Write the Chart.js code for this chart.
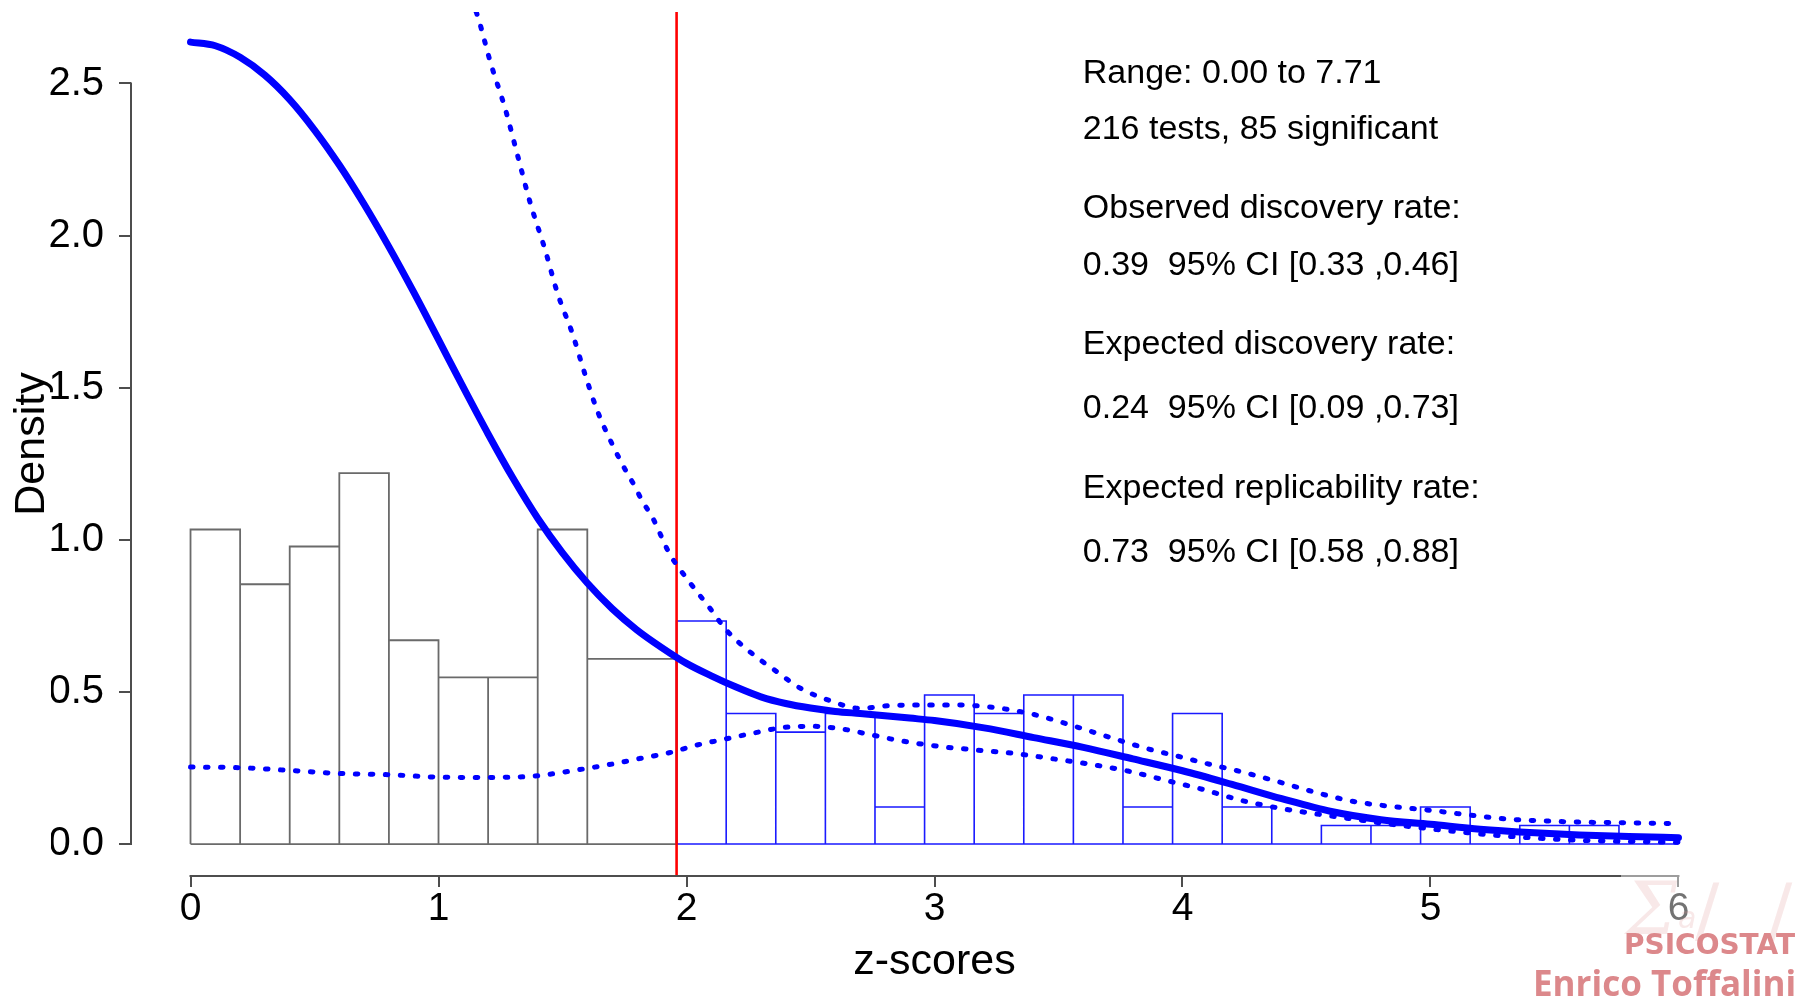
<!DOCTYPE html>
<html><head><meta charset="utf-8">
<script src="https://cdn.jsdelivr.net/npm/chart.js@4.4.1/dist/chart.umd.min.js"></script>
<style>html,body{margin:0;padding:0;background:#fff;}canvas{display:block;}</style>
</head><body>
<canvas id="c" width="1800" height="1006"></canvas>
<script>
// ---------- data ----------
const xTicks = [0, 1, 2, 3, 4, 5, 6];
const yTicks = [0.0, 0.5, 1.0, 1.5, 2.0, 2.5];
const xRange = [-0.24, 6.24];
const yRange = [-0.105, 2.735];
const critZ = 1.96;

const grayEdges = [0, 0.2, 0.4, 0.6, 0.8, 1.0, 1.2, 1.4, 1.6, 1.96];
const grayDensity = [1.034, 0.854, 0.978, 1.219, 0.670, 0.548, 0.548, 1.034, 0.609];

const blueEdges = [1.96, 2.16, 2.36, 2.56, 2.76, 2.96, 3.16, 3.36, 3.56, 3.76, 3.96, 4.16, 4.36, 4.56, 4.76, 4.96, 5.16, 5.36, 5.56, 5.76, 5.96, 6.0];
const blueDensity = [0.733, 0.429, 0.368, 0.429, 0.122, 0.490, 0.429, 0.490, 0.490, 0.122, 0.429, 0.122, 0, 0.061, 0.061, 0.122, 0, 0.061, 0.061, 0, 0];

const fitZ = [0, 0.1, 0.2, 0.3, 0.4, 0.5, 0.6, 0.7, 0.8, 0.9, 1.0, 1.1, 1.2, 1.3, 1.4, 1.5, 1.6, 1.7, 1.8, 1.9, 2.0, 2.1, 2.2, 2.3, 2.4, 2.5, 2.6, 2.7, 2.8, 2.9, 3.0, 3.2, 3.4, 3.6, 3.8, 4.0, 4.2, 4.4, 4.6, 4.8, 5.0, 5.2, 5.4, 5.6, 5.8, 6.0];
const fitD = [2.636, 2.624, 2.586, 2.527, 2.447, 2.347, 2.232, 2.103, 1.963, 1.814, 1.658, 1.501, 1.348, 1.203, 1.071, 0.957, 0.858, 0.774, 0.704, 0.646, 0.594, 0.553, 0.516, 0.484, 0.462, 0.447, 0.436, 0.429, 0.422, 0.414, 0.406, 0.382, 0.350, 0.318, 0.280, 0.241, 0.196, 0.149, 0.107, 0.080, 0.065, 0.049, 0.038, 0.030, 0.025, 0.021];

const ciUpZ = [1.152, 1.16, 1.21, 1.27, 1.32, 1.37, 1.43, 1.48, 1.54, 1.59, 1.64, 1.70, 1.75, 1.79, 1.82, 1.865, 1.93, 2.01, 2.09, 2.16, 2.26, 2.36, 2.46, 2.58, 2.70, 2.82, 2.93, 3.09, 3.24, 3.40, 3.55, 3.71, 3.86, 4.00, 4.08, 4.23, 4.39, 4.54, 4.69, 4.85, 5.00, 5.15, 5.31, 5.46, 5.61, 5.77, 6.00];
const ciUpD = [2.735, 2.716, 2.568, 2.414, 2.260, 2.107, 1.953, 1.810, 1.678, 1.546, 1.425, 1.315, 1.235, 1.178, 1.130, 1.070, 0.957, 0.863, 0.780, 0.704, 0.629, 0.569, 0.512, 0.471, 0.446, 0.455, 0.457, 0.457, 0.449, 0.426, 0.391, 0.350, 0.313, 0.285, 0.268, 0.239, 0.204, 0.169, 0.140, 0.123, 0.111, 0.096, 0.082, 0.076, 0.072, 0.070, 0.067];

const ciLoZ = [0, 0.2, 0.4, 0.6, 0.8, 1.0, 1.2, 1.39, 1.57, 1.70, 1.81, 1.93, 2.04, 2.15, 2.26, 2.39, 2.51, 2.63, 2.75, 2.86, 3.01, 3.17, 3.32, 3.48, 3.63, 3.78, 3.94, 4.09, 4.23, 4.39, 4.54, 4.69, 4.85, 5.00, 5.15, 5.31, 5.46, 5.61, 5.77, 6.00];
const ciLoD = [0.253, 0.251, 0.242, 0.232, 0.228, 0.220, 0.219, 0.224, 0.245, 0.263, 0.281, 0.300, 0.325, 0.344, 0.363, 0.383, 0.387, 0.378, 0.358, 0.340, 0.322, 0.309, 0.298, 0.280, 0.262, 0.240, 0.208, 0.178, 0.145, 0.118, 0.099, 0.082, 0.064, 0.050, 0.037, 0.026, 0.018, 0.012, 0.009, 0.006];

const infoLines = ["Range: 0.00 to 7.71", "216 tests, 85 significant", "Observed discovery rate:", "0.39  95% CI [0.33 ,0.46]", "Expected discovery rate:", "0.24  95% CI [0.09 ,0.73]", "Expected replicability rate:", "0.73  95% CI [0.58 ,0.88]"];
const infoY = [2.501, 2.318, 2.057, 1.870, 1.610, 1.400, 1.138, 0.927];
const infoX = 3.598;

// ---------- helpers ----------
function histOutline(edges, dens) {
  const pts = [{x: edges[0], y: 0}];
  for (let i = 0; i < dens.length; i++) {
    pts.push({x: edges[i], y: dens[i]});
    pts.push({x: edges[i + 1], y: dens[i]});
    pts.push({x: edges[i + 1], y: 0});
  }
  pts.push({x: edges[0], y: 0});
  return pts;
}
function zip(xs, ys) { return xs.map((x, i) => ({x: x, y: ys[i]})); }

const FONT = "'Liberation Sans', Arial, sans-serif";
const AXIS_COL = '#4d4d4d';

const decor = {
  id: 'decor',
  afterDraw(chart) {
    const c = chart.ctx, xs = chart.scales.x, ys = chart.scales.y, ca = chart.chartArea;
    c.save();
    c.strokeStyle = AXIS_COL; c.lineWidth = 2; c.lineCap = 'butt';
    c.beginPath();
    c.moveTo(xs.getPixelForValue(xTicks[0]) - 1, ca.bottom);
    c.lineTo(xs.getPixelForValue(xTicks[xTicks.length - 1]) + 1, ca.bottom);
    c.moveTo(ca.left, ys.getPixelForValue(yTicks[0]) + 1);
    c.lineTo(ca.left, ys.getPixelForValue(yTicks[yTicks.length - 1]) - 1);
    c.stroke();
    // left edge crop seen in the original picture (cuts the leading zeros of the lower labels)
    c.fillStyle = '#fff';
    c.fillRect(0, 565, 51, 320);
    c.fillStyle = '#000';
    c.font = "34px " + FONT;
    c.textAlign = 'left'; c.textBaseline = 'alphabetic';
    infoLines.forEach((t, i) => c.fillText(t, xs.getPixelForValue(infoX), ys.getPixelForValue(infoY[i])));
    // watermark
    c.fillStyle = 'rgba(255,255,255,0.45)';
    c.fillRect(1621, 867, 179, 139);
    c.fillStyle = 'rgba(225,150,150,0.22)';
    c.font = "italic 72px 'DejaVu Serif', serif";
    c.fillText('\u03A3', 1626, 934);
    c.font = "italic 30px 'DejaVu Sans', sans-serif";
    c.fillText('a', 1678, 928);
    c.font = "72px 'DejaVu Sans', sans-serif";
    c.fillText('/', 1695, 934);
    c.fillText('/', 1768, 934);
    c.fillStyle = '#dc888b';
    c.font = "bold 28px 'DejaVu Sans', sans-serif";
    c.fillText('PSICOSTAT', 1624, 954);
    c.font = "bold 35px 'Open Sans', sans-serif";
    c.fillText('Enrico Toffalini', 1533, 996);
    c.restore();
  }
};

new Chart(document.getElementById('c'), {
  type: 'line',
  data: {
    datasets: [
      {label: 'fit', data: zip(fitZ, fitD), borderColor: '#0000ff', borderWidth: 7, borderCapStyle: 'round', borderJoinStyle: 'round', pointRadius: 0, cubicInterpolationMode: 'monotone', order: 0},
      {label: 'ciUp', data: zip(ciUpZ, ciUpD), borderColor: '#0000ff', borderWidth: 5, borderDash: [2.5, 12.5], borderCapStyle: 'round', pointRadius: 0, cubicInterpolationMode: 'monotone', order: 1},
      {label: 'ciLo', data: zip(ciLoZ, ciLoD), borderColor: '#0000ff', borderWidth: 5, borderDash: [2.5, 12.5], borderCapStyle: 'round', pointRadius: 0, cubicInterpolationMode: 'monotone', order: 2},
      {label: 'crit', data: [{x: critZ, y: yRange[0]}, {x: critZ, y: yRange[1]}], borderColor: '#ff0000', borderWidth: 2.6, pointRadius: 0, order: 3},
      {label: 'histSig', data: histOutline(blueEdges, blueDensity), borderColor: '#1a1aff', borderWidth: 1.6, pointRadius: 0, tension: 0, borderJoinStyle: 'miter', order: 4},
      {label: 'histNs', data: histOutline(grayEdges, grayDensity), borderColor: '#6a6a6a', borderWidth: 1.8, pointRadius: 0, tension: 0, borderJoinStyle: 'miter', order: 5}
    ]
  },
  options: {
    responsive: false, animation: false, devicePixelRatio: 1,
    layout: {padding: {left: 0, right: 62, top: 12, bottom: 0}},
    plugins: {legend: {display: false}, tooltip: {enabled: false}},
    scales: {
      x: {
        type: 'linear', min: xRange[0], max: xRange[1],
        afterBuildTicks: s => { s.ticks = xTicks.map(v => ({value: v})); },
        afterFit: s => { s.height = 130; s.paddingLeft = 0; s.paddingRight = 0; },
        border: {display: false},
        grid: {display: true, drawOnChartArea: false, drawTicks: true, tickLength: 11, color: AXIS_COL, lineWidth: 2},
        ticks: {font: {family: FONT, size: 39, lineHeight: 1.05}, color: '#000', padding: 2, maxRotation: 0, autoSkip: false, callback: v => String(v)},
        title: {display: true, text: 'z-scores', color: '#000', font: {family: FONT, size: 43}, padding: {top: 0, bottom: 18}}
      },
      y: {
        type: 'linear', min: yRange[0], max: yRange[1],
        afterBuildTicks: s => { s.ticks = yTicks.map(v => ({value: v})); },
        afterFit: s => { s.width = 131; s.paddingTop = 0; s.paddingBottom = 0; },
        border: {display: false},
        grid: {display: true, drawOnChartArea: false, drawTicks: true, tickLength: 12, color: AXIS_COL, lineWidth: 2},
        ticks: {font: {family: FONT, size: 40}, color: '#000', padding: 15, autoSkip: false, callback: v => v.toFixed(1)},
        title: {display: true, text: 'Density', color: '#000', font: {family: FONT, size: 43}, padding: {top: 6, bottom: 0}}
      }
    }
  },
  plugins: [decor]
});
</script>
</body></html>
